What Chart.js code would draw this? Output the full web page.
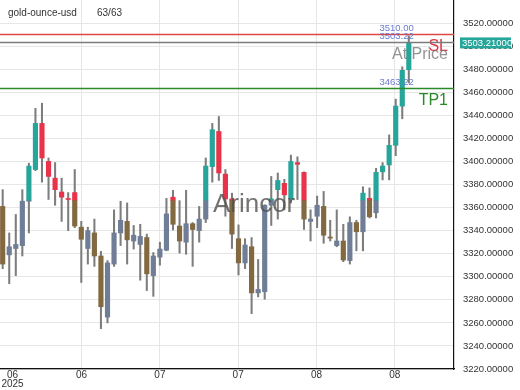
<!DOCTYPE html>
<html>
<head>
<meta charset="utf-8">
<title>gold-ounce-usd</title>
<script src="https://cdn.jsdelivr.net/npm/chart.js@4.4.0/dist/chart.umd.min.js"></script>
<style>
  body { margin: 0; background: #fff; }
  #wrap { position: relative; width: 520px; height: 390px; }
</style>
</head>
<body>
<div id="wrap"><canvas id="chart" width="520" height="390"></canvas></div>
<script>
const symbol = 'gold-ounce-usd';
const counter = '63/63';

// daily candles
const opens  = [3361, 3319, 3324.5, 3327, 3365.5, 3393, 3433, 3400, 3385.5, 3373.5,
                3367.5, 3373, 3343, 3324.5, 3338, 3318, 3265, 3311, 3338, 3348,
                3331, 3328, 3334, 3301, 3317, 3323, 3369, 3344, 3330, 3346,
                3340, 3350, 3395.5, 3426, 3389, 3367.5, 3333, 3312, 3326, 3286,
                3287, 3362, 3375.5, 3381, 3367.5, 3399, 3390.5, 3348, 3352.5, 3361,
                3334.5, 3327, 3331, 3314, 3347, 3339, 3368, 3355.5, 3391, 3397,
                3414, 3448, 3479.5];
const highs  = [3375.5, 3338, 3354, 3375.5, 3398.5, 3446, 3450.5, 3403, 3399, 3385.5,
                3373, 3393, 3348, 3343, 3350, 3322, 3314, 3358, 3365.5, 3364,
                3344.5, 3345.5, 3337, 3321, 3330, 3368, 3375, 3366, 3375, 3347,
                3361, 3403, 3433, 3439, 3393, 3372.5, 3345, 3333, 3334, 3315,
                3362.5, 3387, 3390, 3384.5, 3405.5, 3404, 3391, 3358, 3370, 3374,
                3349, 3358, 3345.5, 3352, 3349, 3378, 3377, 3394, 3399, 3423,
                3454, 3482, 3509];
const lows   = [3307, 3294, 3301, 3318, 3338, 3392, 3382, 3367, 3362, 3348,
                3340, 3342.5, 3295, 3311, 3309, 3255, 3260, 3309, 3327, 3311,
                3324, 3297, 3288, 3283, 3310, 3322.5, 3340.5, 3320.5, 3319.5, 3309,
                3330, 3347, 3382, 3383.5, 3352.5, 3324.5, 3301.5, 3307, 3268, 3282.5,
                3280.5, 3344.5, 3350, 3358, 3364, 3367, 3341, 3331, 3342.5, 3329,
                3331, 3326, 3313, 3311, 3322.5, 3322.5, 3351, 3351, 3384, 3384,
                3405, 3437, 3468];
const closes = [3311, 3326, 3328, 3365.5, 3396, 3433, 3403, 3387, 3375.5, 3369,
                3367, 3344, 3332.5, 3340, 3318, 3274, 3312, 3338, 3349, 3332,
                3336, 3335, 3302.5, 3318, 3324, 3354.5, 3345.5, 3331, 3346, 3341,
                3350, 3396, 3427.5, 3390, 3367.5, 3337, 3312, 3327.5, 3286, 3289,
                3362, 3367.5, 3383.5, 3371, 3400, 3397.5, 3350, 3350, 3362, 3336,
                3333.5, 3331, 3314.5, 3347, 3339, 3372.5, 3352, 3390.5, 3396, 3414,
                3448, 3479, 3503.21];

const yTicks = [3220, 3240, 3260, 3280, 3300, 3320, 3340, 3360, 3380, 3400,
                3420, 3440, 3460, 3480, 3500, 3520];
const xTickPos = [1.5, 12.05, 24, 35.95, 47.9, 59.85];
const xTickLabels = [['06', '2025'], '06', '07', '07', '08', '08'];

const levelValues = [3510, 3503.22, 3463.22];
const levelNames = ['SL', 'At Price', 'TP1'];
const lastPrice = 3503.21;
const shadeLevel = 3366.5; // candles below this look washed out in the original

const FONT = "'Liberation Sans', Arial, sans-serif";
const UP = '#26a69a', DOWN = '#e8334a';
const UP_DIM = '#6f7d96', DOWN_DIM = '#82693f';
const levelColors = ['#e04646', '#7c7c7c', '#2a8a2a'];
const nameColors = ['#e0303f', 'rgba(120,120,120,0.8)', '#2a8a2a'];

const idx = opens.map((_, i) => i);
const isUp = i => closes[i] >= opens[i];

const wicks = idx.map(i => ({ x: i, y: [lows[i], highs[i]] }));
const bodiesHi = idx.filter(i => Math.max(opens[i], closes[i]) > shadeLevel).map(i => ({
  x: i, y: [Math.max(Math.min(opens[i], closes[i]), shadeLevel), Math.max(opens[i], closes[i])]
}));
const bodiesLo = idx.filter(i => Math.min(opens[i], closes[i]) < shadeLevel).map(i => ({
  x: i, y: [Math.min(opens[i], closes[i]), Math.min(Math.max(opens[i], closes[i]), shadeLevel)]
}));

const overlay = {
  id: 'overlay',
  afterDatasetsDraw(chart) {
    const { ctx, chartArea: a, scales: { x, y } } = chart;
    ctx.save();
    // watermark
    ctx.font = '26px ' + FONT;
    ctx.fillStyle = 'rgba(80,80,80,0.8)';
    ctx.textAlign = 'left';
    ctx.textBaseline = 'alphabetic';
    ctx.fillText('Arincor', a.left + (a.right - a.left) * 0.469, y.getPixelForValue(3356));

    const lastX = x.getPixelForValue(opens.length - 1);
    levelValues.forEach((v, k) => {
      const py = y.getPixelForValue(v);
      ctx.strokeStyle = levelColors[k];
      ctx.lineWidth = 1.5;
      ctx.beginPath();
      ctx.moveTo(a.left, py);
      ctx.lineTo(a.right, py);
      ctx.stroke();

      ctx.font = '9.5px ' + FONT;
      ctx.fillStyle = '#6a7bd0';
      ctx.textAlign = 'right';
      ctx.textBaseline = 'bottom';
      ctx.fillText(v.toFixed(2), lastX + 5, py - 1);

      ctx.font = '16px ' + FONT;
      ctx.fillStyle = nameColors[k];
      ctx.textBaseline = 'top';
      ctx.fillText(levelNames[k], a.right - 6, py + 4);
    });
    ctx.restore();
  },
  afterDraw(chart) {
    const { ctx, chartArea: a, scales: { y } } = chart;
    ctx.save();
    // last price tag on the axis
    const py = y.getPixelForValue(lastPrice);
    ctx.fillStyle = UP;
    ctx.fillRect(a.right + 6, py - 5, 51, 11);
    ctx.font = '9.5px ' + FONT;
    ctx.fillStyle = '#fff';
    ctx.textAlign = 'left';
    ctx.textBaseline = 'middle';
    ctx.fillText(lastPrice.toFixed(5), a.right + 8, py + 0.5);

    ctx.fillStyle = '#333';
    ctx.font = '10px ' + FONT;
    ctx.fillText(symbol, 8, 13);
    ctx.fillText(counter, 97, 13);
    ctx.restore();
  }
};

new Chart(document.getElementById('chart'), {
  type: 'bar',
  data: {
    datasets: [
      { data: bodiesHi, order: 0, grouped: false, barThickness: 4.5, minBarLength: 1,
        backgroundColor: c => (c.raw && !isUp(c.raw.x)) ? DOWN : UP },
      { data: bodiesLo, order: 1, grouped: false, barThickness: 4.5, minBarLength: 1,
        backgroundColor: c => (c.raw && !isUp(c.raw.x)) ? DOWN_DIM : UP_DIM },
      { data: wicks, order: 2, grouped: false, barThickness: 1.4,
        backgroundColor: '#7d7d7d' }
    ]
  },
  options: {
    responsive: false,
    devicePixelRatio: 1,
    animation: false,
    layout: { padding: 0 },
    plugins: { legend: { display: false }, tooltip: { enabled: false } },
    scales: {
      x: {
        type: 'linear',
        offset: false,
        min: -0.41,
        max: 68.9,
        afterBuildTicks: s => { s.ticks = xTickPos.map(v => ({ value: v })); },
        afterFit: s => { s.height = 21; s.paddingLeft = 0; s.paddingRight = 0; },
        ticks: {
          autoSkip: false, maxRotation: 0, padding: 1,
          color: '#333', font: { family: FONT, size: 10, lineHeight: 0.95 },
          callback: (v, i) => xTickLabels[i]
        },
        grid: { offset: false, drawTicks: false, color: c => c.index === 0 ? 'rgba(0,0,0,0)' : '#e6e6e6' },
        border: { color: '#111', width: 1.2 }
      },
      y: {
        position: 'right',
        min: 3220,
        max: 3540,
        afterBuildTicks: s => { s.ticks = yTicks.map(v => ({ value: v })); },
        afterFit: s => { s.width = 66; s.paddingTop = 0; s.paddingBottom = 0; },
        ticks: {
          padding: 9, crossAlign: 'near',
          color: '#333', font: { family: FONT, size: 9.5 },
          callback: v => v.toFixed(5)
        },
        grid: { drawTicks: false, color: '#e6e6e6' },
        border: { color: '#111', width: 1.2 }
      }
    }
  },
  plugins: [overlay]
});
</script>
</body>
</html>
